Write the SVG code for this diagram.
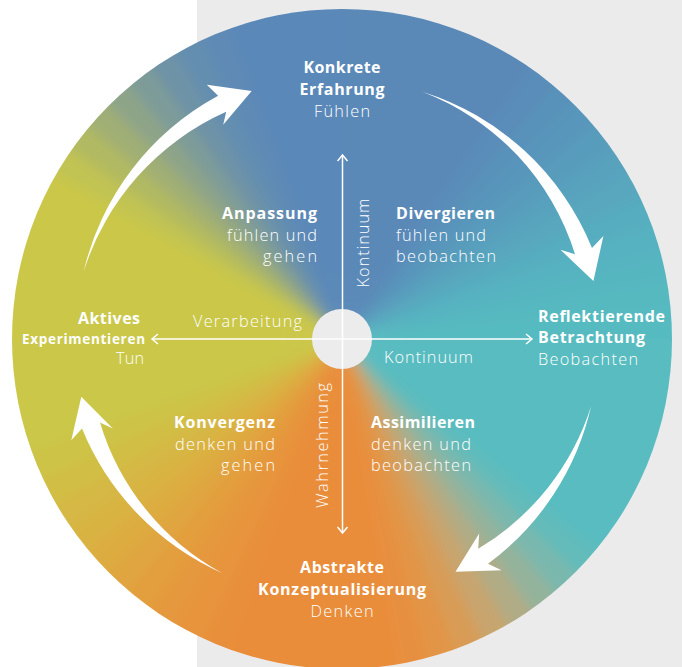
<svg xmlns="http://www.w3.org/2000/svg" xmlns:xlink="http://www.w3.org/1999/xlink" width="682" height="667" viewBox="0 0 682 667">
<style>
.b{font-family:"Open Sans","Liberation Sans",sans-serif;font-weight:700;font-size:16px;fill:#fff}
.l{font-family:"Open Sans","Liberation Sans",sans-serif;font-weight:300;font-size:16.3px;fill:#fff}
.ax{stroke:#fff;stroke-width:1.5;fill:none}
.arr{fill:#fff}
</style>
<defs>
<path id="wg" d="M342 339L342 -21A360 360 0 0 1 376.5 -19.3Z"/>
<clipPath id="cc"><circle cx="342" cy="339" r="330"/></clipPath>
<filter id="bl" x="-10%" y="-10%" width="120%" height="120%"><feGaussianBlur stdDeviation="6"/></filter>
<marker id="ch" viewBox="-8 -6 10 12" refX="0" refY="0" markerWidth="10" markerHeight="12" markerUnits="userSpaceOnUse" orient="auto-start-reverse"><path d="M-6 -5L0 0L-6 5" fill="none" stroke="#fff" stroke-width="1.5"/></marker>
</defs>
<rect x="197" y="0" width="485" height="667" fill="#ebebeb"/>
<g id="wheel" clip-path="url(#cc)">
<g filter="url(#bl)">
<use href="#wg" transform="rotate(0 342 339)" fill="#5a89b8"/>
<use href="#wg" transform="rotate(5 342 339)" fill="#5a89b8"/>
<use href="#wg" transform="rotate(10 342 339)" fill="#5a89b8"/>
<use href="#wg" transform="rotate(15 342 339)" fill="#5a89b8"/>
<use href="#wg" transform="rotate(20 342 339)" fill="#5a89b8"/>
<use href="#wg" transform="rotate(25 342 339)" fill="#5a89b8"/>
<use href="#wg" transform="rotate(30 342 339)" fill="#5a89b8"/>
<use href="#wg" transform="rotate(35 342 339)" fill="#5a8db9"/>
<use href="#wg" transform="rotate(40 342 339)" fill="#5992ba"/>
<use href="#wg" transform="rotate(45 342 339)" fill="#5997bb"/>
<use href="#wg" transform="rotate(50 342 339)" fill="#589cbc"/>
<use href="#wg" transform="rotate(55 342 339)" fill="#58a2bd"/>
<use href="#wg" transform="rotate(60 342 339)" fill="#58a7be"/>
<use href="#wg" transform="rotate(65 342 339)" fill="#57adbf"/>
<use href="#wg" transform="rotate(70 342 339)" fill="#57b2c0"/>
<use href="#wg" transform="rotate(75 342 339)" fill="#57b6c0"/>
<use href="#wg" transform="rotate(80 342 339)" fill="#57b9c0"/>
<use href="#wg" transform="rotate(85 342 339)" fill="#57bbc0"/>
<use href="#wg" transform="rotate(90 342 339)" fill="#58bcc0"/>
<use href="#wg" transform="rotate(95 342 339)" fill="#58bcc0"/>
<use href="#wg" transform="rotate(100 342 339)" fill="#58bcc0"/>
<use href="#wg" transform="rotate(105 342 339)" fill="#58bcc0"/>
<use href="#wg" transform="rotate(110 342 339)" fill="#58bcc0"/>
<use href="#wg" transform="rotate(115 342 339)" fill="#58bcc0"/>
<use href="#wg" transform="rotate(120 342 339)" fill="#58bcc0"/>
<use href="#wg" transform="rotate(125 342 339)" fill="#58bcc0"/>
<use href="#wg" transform="rotate(130 342 339)" fill="#63bbba"/>
<use href="#wg" transform="rotate(135 342 339)" fill="#7ab8ad"/>
<use href="#wg" transform="rotate(140 342 339)" fill="#94b39b"/>
<use href="#wg" transform="rotate(145 342 339)" fill="#b1ac85"/>
<use href="#wg" transform="rotate(150 342 339)" fill="#c8a56e"/>
<use href="#wg" transform="rotate(155 342 339)" fill="#d89c56"/>
<use href="#wg" transform="rotate(160 342 339)" fill="#e29546"/>
<use href="#wg" transform="rotate(165 342 339)" fill="#e78f3f"/>
<use href="#wg" transform="rotate(170 342 339)" fill="#e98d3b"/>
<use href="#wg" transform="rotate(175 342 339)" fill="#e98d3b"/>
<use href="#wg" transform="rotate(180 342 339)" fill="#e98d3b"/>
<use href="#wg" transform="rotate(185 342 339)" fill="#e98d3b"/>
<use href="#wg" transform="rotate(190 342 339)" fill="#e98d3b"/>
<use href="#wg" transform="rotate(195 342 339)" fill="#e98d3b"/>
<use href="#wg" transform="rotate(200 342 339)" fill="#e88f3b"/>
<use href="#wg" transform="rotate(205 342 339)" fill="#e7943c"/>
<use href="#wg" transform="rotate(210 342 339)" fill="#e5983c"/>
<use href="#wg" transform="rotate(215 342 339)" fill="#e39e3d"/>
<use href="#wg" transform="rotate(220 342 339)" fill="#e0a53f"/>
<use href="#wg" transform="rotate(225 342 339)" fill="#ddac40"/>
<use href="#wg" transform="rotate(230 342 339)" fill="#d9b342"/>
<use href="#wg" transform="rotate(235 342 339)" fill="#d5b844"/>
<use href="#wg" transform="rotate(240 342 339)" fill="#d1be45"/>
<use href="#wg" transform="rotate(245 342 339)" fill="#cdc347"/>
<use href="#wg" transform="rotate(250 342 339)" fill="#cac749"/>
<use href="#wg" transform="rotate(255 342 339)" fill="#cac749"/>
<use href="#wg" transform="rotate(260 342 339)" fill="#cac749"/>
<use href="#wg" transform="rotate(265 342 339)" fill="#cac749"/>
<use href="#wg" transform="rotate(270 342 339)" fill="#cac749"/>
<use href="#wg" transform="rotate(275 342 339)" fill="#cac749"/>
<use href="#wg" transform="rotate(280 342 339)" fill="#cac749"/>
<use href="#wg" transform="rotate(285 342 339)" fill="#cac749"/>
<use href="#wg" transform="rotate(290 342 339)" fill="#cac749"/>
<use href="#wg" transform="rotate(295 342 339)" fill="#cac749"/>
<use href="#wg" transform="rotate(300 342 339)" fill="#c1c352"/>
<use href="#wg" transform="rotate(305 342 339)" fill="#b1b962"/>
<use href="#wg" transform="rotate(310 342 339)" fill="#a0af74"/>
<use href="#wg" transform="rotate(315 342 339)" fill="#8ea488"/>
<use href="#wg" transform="rotate(320 342 339)" fill="#7d9b99"/>
<use href="#wg" transform="rotate(325 342 339)" fill="#6e93a7"/>
<use href="#wg" transform="rotate(330 342 339)" fill="#638eb0"/>
<use href="#wg" transform="rotate(335 342 339)" fill="#5e8ab5"/>
<use href="#wg" transform="rotate(340 342 339)" fill="#5a88b8"/>
<use href="#wg" transform="rotate(345 342 339)" fill="#5a88b8"/>
<use href="#wg" transform="rotate(350 342 339)" fill="#5a88b8"/>
<use href="#wg" transform="rotate(355 342 339)" fill="#5a88b8"/>
</g>
</g>
<g id="center"><circle cx="342" cy="339" r="30" fill="#ececec"/></g>
<g id="connectors">
<line class="ax" x1="342.5" y1="155" x2="342.5" y2="533" marker-start="url(#ch)" marker-end="url(#ch)"/>
<line class="ax" x1="152" y1="339" x2="532" y2="339" marker-start="url(#ch)" marker-end="url(#ch)"/>
<path class="arr" d="M83.5 272.1A270 270 0 0 1 218.1 95.8L206.8 84.7L251.7 90.9L223.2 124.7L226.2 111.8A260 260 0 0 0 83.5 272.1Z"/>
<path class="arr" d="M422.3 91.7A270 270 0 0 1 592 248L603.4 236L593.4 281L560.5 249.8L575 254.2A255 255 0 0 0 422.3 91.7Z"/>
<path class="arr" d="M591.2 405.8A270 270 0 0 1 488 563.8L501.6 570.3L455.5 571.8L479.2 533.5L478.2 548.7A255 255 0 0 0 591.2 405.8Z"/>
<path class="arr" d="M222.6 573.3A270 270 0 0 1 82 428.5L71.3 440.2L81.3 396.8L112.8 428.4L100 422.4A255 255 0 0 0 222.6 573.3Z"/>
</g>
<g id="konkrete" text-anchor="middle">
<text class="b" x="342" y="73" textLength="77">Konkrete</text>
<text class="b" x="342" y="95" textLength="85">Erfahrung</text>
<text class="l" x="342" y="117" textLength="56">Fühlen</text>
</g>
<g id="reflektierende">
<text class="b" x="538" y="322" textLength="127">Reflektierende</text>
<text class="b" x="538" y="343" textLength="107">Betrachtung</text>
<text class="l" x="538" y="365" textLength="100">Beobachten</text>
</g>
<g id="abstrakte" text-anchor="middle">
<text class="b" x="342" y="573" textLength="84">Abstrakte</text>
<text class="b" x="342" y="595" textLength="168">Konzeptualisierung</text>
<text class="l" x="342" y="617" textLength="63">Denken</text>
</g>
<g id="aktives" text-anchor="end">
<text class="b" x="140" y="324" textLength="62">Aktives</text>
<text class="b" x="145" y="344" style="font-size:13.5px" textLength="123">Experimentieren</text>
<text class="l" x="144" y="364" textLength="28">Tun</text>
</g>
<g id="anpassung" text-anchor="end">
<text class="b" x="317" y="219" textLength="95">Anpassung</text>
<text class="l" x="317" y="241" textLength="90">fühlen und</text>
<text class="l" x="317" y="262" textLength="54">gehen</text>
</g>
<g id="divergieren">
<text class="b" x="396" y="219" textLength="99">Divergieren</text>
<text class="l" x="396" y="241" textLength="90">fühlen und</text>
<text class="l" x="396" y="262" textLength="100">beobachten</text>
</g>
<g id="konvergenz" text-anchor="end">
<text class="b" x="275" y="428" textLength="101">Konvergenz</text>
<text class="l" x="275" y="450" textLength="100">denken und</text>
<text class="l" x="275" y="471" textLength="54">gehen</text>
</g>
<g id="assimilieren">
<text class="b" x="371" y="428" textLength="104">Assimilieren</text>
<text class="l" x="371" y="450" textLength="100">denken und</text>
<text class="l" x="371" y="471" textLength="100">beobachten</text>
</g>
<g id="axis-labels">
<text class="l" x="302" y="327" text-anchor="end" textLength="109">Verarbeitung</text>
<text class="l" x="384" y="363" textLength="89">Kontinuum</text>
<text class="l" transform="translate(369 243) rotate(-90)" text-anchor="middle" textLength="89">Kontinuum</text>
<text class="l" transform="translate(328 445.5) rotate(-90)" text-anchor="middle" textLength="125">Wahrnehmung</text>
</g>
</svg>
